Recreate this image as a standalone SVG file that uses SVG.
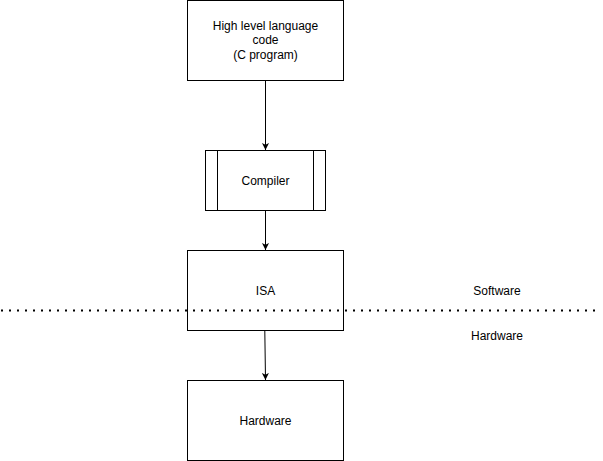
<svg xmlns="http://www.w3.org/2000/svg" width="603" height="461" viewBox="0 0 603 461">
<style>
.box{fill:#fff;stroke:#000;stroke-width:1}
.t{font-family:"Liberation Sans",Arial,sans-serif;font-size:12px;fill:#000;text-anchor:middle;dominant-baseline:central}
.edge{stroke:#000;stroke-width:1;fill:none}
</style>
<defs>
<marker id="arr" viewBox="0 0 10 10" refX="10" refY="5" markerWidth="7" markerHeight="7" markerUnits="userSpaceOnUse" orient="auto">
<path d="M0,0 L10,5 L0,10 L2.5,5 Z" fill="#000"/>
</marker>
</defs>
<rect width="603" height="461" fill="#fff"/>
<g id="connectors">
<path class="edge" d="M265.5,80.5 L265.5,150" marker-end="url(#arr)"/>
<path class="edge" d="M265.5,210.5 L265.5,250" marker-end="url(#arr)"/>
<path class="edge" d="M264.8,330.5 L265.5,380" marker-end="url(#arr)"/>
</g>
<g id="n-hll">
<rect class="box" x="187.5" y="0.5" width="156" height="80"/>
<text class="t" x="265.5" y="26">High level language</text>
<text class="t" x="265.5" y="40">code</text>
<text class="t" x="265.5" y="55">(C program)</text>
</g>
<g id="n-compiler">
<rect class="box" x="205.5" y="150.5" width="120" height="60"/>
<line class="edge" x1="217.5" y1="150.5" x2="217.5" y2="210.5"/>
<line class="edge" x1="313.5" y1="150.5" x2="313.5" y2="210.5"/>
<text class="t" x="265.5" y="181">Compiler</text>
</g>
<g id="n-isa">
<rect class="box" x="187.5" y="250.5" width="156" height="80"/>
<text class="t" x="265.5" y="291">ISA</text>
</g>
<g id="n-hardware">
<rect class="box" x="187.5" y="380.5" width="156" height="80"/>
<text class="t" x="265.5" y="421">Hardware</text>
</g>
<g id="divider">
<line x1="1" y1="310.5" x2="596" y2="310.5" stroke="#000" stroke-width="2" stroke-dasharray="2 6"/>
</g>
<g id="labels">
<text class="t" x="497" y="291">Software</text>
<text class="t" x="497" y="336">Hardware</text>
</g>
</svg>
